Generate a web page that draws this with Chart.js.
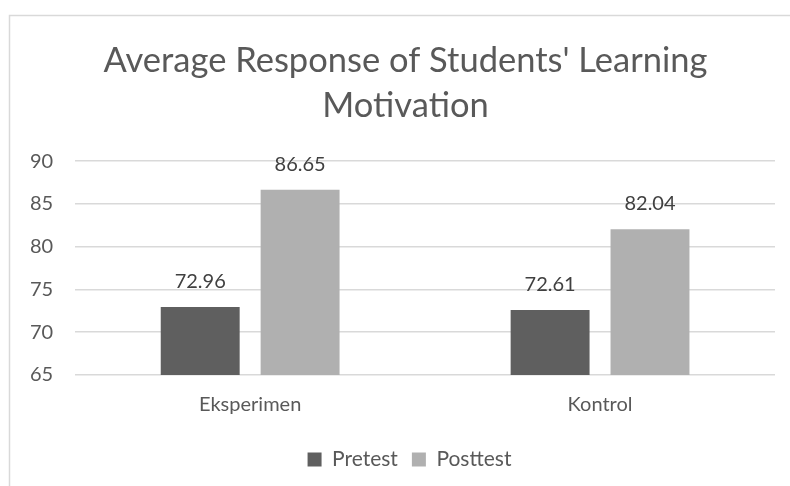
<!DOCTYPE html>
<html>
<head>
<meta charset="utf-8">
<script src="https://cdn.jsdelivr.net/npm/chart.js@4"></script>
<style>
  html, body { margin: 0; padding: 0; background: #fff; }
  #wrap { position: relative; width: 790px; height: 486px; }
</style>
</head>
<body>
<div id="wrap"><canvas id="motivationChart" width="790" height="486"></canvas></div>
<script>
const groups = ["Eksperimen", "Kontrol"];
const pretest = [72.96, 72.61];
const posttest = [86.65, 82.04];
const yMin = 65;
const yMax = 90;
const yStep = 5;

const fontFamily = "Lato, 'Open Sans', sans-serif";
const textColor = '#595959';

// outer frame of the chart (left and top edges only are visible)
const framePlugin = {
    id: 'frame',
    beforeDraw(chart) {
        const ctx = chart.ctx;
        ctx.save();
        ctx.strokeStyle = '#d9d9d9';
        ctx.lineWidth = 1.5;
        ctx.beginPath();
        ctx.moveTo(9.5, chart.height);
        ctx.lineTo(9.5, 15.5);
        ctx.lineTo(chart.width, 15.5);
        ctx.stroke();
        ctx.restore();
    }
};

// title and legend sit a bit right of the plot centre, like the original
const shiftBlocks = {
    id: 'shiftBlocks',
    afterLayout(chart) {
        if (chart.titleBlock) {
            chart.titleBlock.left += 14;
            chart.titleBlock.right += 14;
        }
        if (chart.legend) {
            chart.legend.left += 18;
            chart.legend.right += 18;
        }
    }
};

// value labels above each bar
const valueLabels = {
    id: 'valueLabels',
    afterDatasetsDraw(chart) {
        const ctx = chart.ctx;
        ctx.save();
        ctx.font = "20px " + fontFamily;
        ctx.fillStyle = '#404040';
        ctx.textAlign = 'center';
        ctx.textBaseline = 'alphabetic';
        chart.data.datasets.forEach((ds, i) => {
            chart.getDatasetMeta(i).data.forEach((bar, j) => {
                ctx.fillText(ds.data[j].toFixed(2), bar.x, bar.y - 19);
            });
        });
        ctx.restore();
    }
};

new Chart(document.getElementById('motivationChart'), {
    type: 'bar',
    data: {
        labels: groups,
        datasets: [
            { label: 'Pretest', data: pretest, backgroundColor: '#5f5f5f' },
            { label: 'Posttest', data: posttest, backgroundColor: '#b0b0b0' }
        ]
    },
    options: {
        responsive: false,
        animation: false,
        categoryPercentage: 0.571,
        barPercentage: 0.79,
        layout: { padding: { left: 8, right: 15, top: 38, bottom: 6 } },
        scales: {
            y: {
                min: yMin,
                max: yMax,
                ticks: {
                    stepSize: yStep,
                    color: textColor,
                    padding: 22,
                    font: { family: fontFamily, size: 20 }
                },
                grid: { color: '#d9d9d9', lineWidth: 1.5, drawTicks: false },
                border: { display: false }
            },
            x: {
                ticks: {
                    color: textColor,
                    padding: 18,
                    font: { family: fontFamily, size: 20 }
                },
                grid: { display: false, drawTicks: false },
                border: { display: false }
            }
        },
        plugins: {
            title: {
                display: true,
                text: ["Average Response of Students' Learning", "Motivation"],
                color: textColor,
                font: { family: fontFamily, size: 34.5, weight: 'normal', lineHeight: 1.32 },
                padding: { top: 0, bottom: 32 }
            },
            legend: {
                position: 'bottom',
                labels: {
                    color: textColor,
                    boxWidth: 14,
                    boxHeight: 14,
                    padding: 14,
                    font: { family: fontFamily, size: 21 }
                }
            },
            tooltip: { enabled: false }
        }
    },
    plugins: [framePlugin, shiftBlocks, valueLabels]
});
</script>
</body>
</html>
